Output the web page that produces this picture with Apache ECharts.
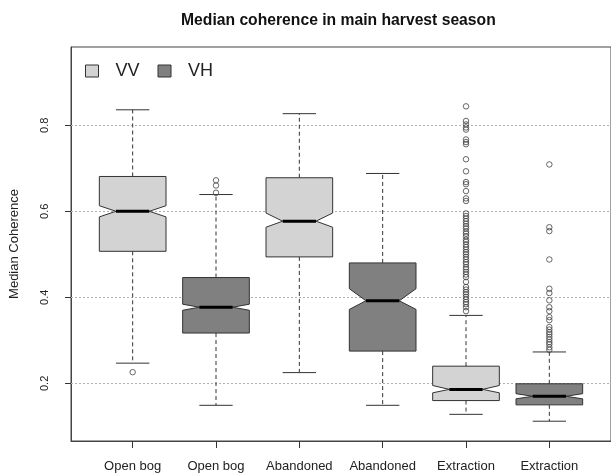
<!DOCTYPE html>
<html>
<head>
<meta charset="utf-8">
<script src="https://cdn.jsdelivr.net/npm/echarts@6/dist/echarts.min.js"></script>
<style>
  html, body { margin: 0; padding: 0; background: #fff; }
  #chart { width: 611px; height: 473px; }
</style>
</head>
<body>
<div id="chart"></div>
<script>
// Groups along the x axis and their polarisation
const categories = ['Open bog', 'Open bog', 'Abandoned', 'Abandoned', 'Extraction', 'Extraction'];
const polarisation = ['VV', 'VH', 'VV', 'VH', 'VV', 'VH'];

// Five-number summaries and notch limits per group
const whiskerLow  = [0.247, 0.149, 0.225, 0.149, 0.128, 0.112];
const q1          = [0.507, 0.317, 0.494, 0.275, 0.160, 0.150];
const notchLow    = [0.587, 0.370, 0.563, 0.372, 0.178, 0.164];
const median      = [0.600, 0.377, 0.577, 0.392, 0.186, 0.170];
const notchHigh   = [0.613, 0.384, 0.596, 0.420, 0.195, 0.176];
const q3          = [0.681, 0.446, 0.678, 0.480, 0.240, 0.199];
const whiskerHigh = [0.836, 0.639, 0.827, 0.688, 0.358, 0.273];

// Outlying values per group
const outliers1 = [0.226];
const outliers2 = [0.643, 0.660, 0.672];
const outliers3 = [];
const outliers4 = [];
const outliers5 = [0.844, 0.810, 0.802, 0.795, 0.790, 0.767, 0.761, 0.756, 0.721, 0.693,
                   0.668, 0.663, 0.647, 0.630, 0.624, 0.595, 0.589, 0.583, 0.577, 0.571,
                   0.565, 0.560, 0.553, 0.548, 0.542, 0.534, 0.529, 0.523, 0.517, 0.511,
                   0.505, 0.500, 0.494, 0.488, 0.482, 0.477, 0.470, 0.465, 0.459, 0.453,
                   0.447, 0.436, 0.424, 0.418, 0.412, 0.407, 0.401, 0.395, 0.389, 0.384,
                   0.377, 0.368];
const outliers6 = [0.709, 0.563, 0.554, 0.488, 0.420, 0.410, 0.393, 0.377, 0.368, 0.354,
                   0.347, 0.331, 0.325, 0.319, 0.314, 0.308, 0.302, 0.296, 0.291, 0.284,
                   0.278];
const outlierGroups = [outliers1, outliers2, outliers3, outliers4, outliers5, outliers6];

// Y axis tick values
const yTicks = [0.2, 0.4, 0.6, 0.8];

const fillColors = { VV: '#d3d3d3', VH: '#808080' };
const lineColor = '#333';
const FONT = 'Liberation Sans, Arial, sans-serif';

function boxRows(pol) {
  const rows = [];
  categories.forEach((c, i) => {
    if (polarisation[i] !== pol) return;
    rows.push([i + 1, whiskerLow[i], q1[i], notchLow[i], median[i], notchHigh[i], q3[i], whiskerHigh[i]]);
  });
  return rows;
}

const outlierPoints = [];
outlierGroups.forEach((g, i) => g.forEach(v => outlierPoints.push([i + 1, v])));

const HALF = 0.4;   // half box width in category units

function renderBox(params, api) {
  const x = api.value(0);
  const yLo = api.coord([x, api.value(1)])[1];
  const yQ1 = api.coord([x, api.value(2)])[1];
  const yNl = api.coord([x, api.value(3)])[1];
  const yMd = api.coord([x, api.value(4)])[1];
  const yNh = api.coord([x, api.value(5)])[1];
  const yQ3 = api.coord([x, api.value(6)])[1];
  const yHi = api.coord([x, api.value(7)])[1];
  const xc = api.coord([x, 0])[0];
  const xl = api.coord([x - HALF, 0])[0];
  const xr = api.coord([x + HALF, 0])[0];
  const inset = (xr - xl) / 4;
  const capL = api.coord([x - HALF / 2, 0])[0];
  const capR = api.coord([x + HALF / 2, 0])[0];
  const fill = api.visual('color');
  const dash = { stroke: lineColor, lineWidth: 1, lineDash: [4, 3] };
  const solid = { stroke: lineColor, lineWidth: 1 };
  return {
    type: 'group',
    children: [
      { type: 'line', shape: { x1: xc, y1: yQ3, x2: xc, y2: yHi }, style: dash },
      { type: 'line', shape: { x1: xc, y1: yQ1, x2: xc, y2: yLo }, style: dash },
      { type: 'line', shape: { x1: capL, y1: yHi, x2: capR, y2: yHi }, style: solid },
      { type: 'line', shape: { x1: capL, y1: yLo, x2: capR, y2: yLo }, style: solid },
      {
        type: 'polygon',
        shape: {
          points: [
            [xl, yQ3], [xr, yQ3], [xr, yNh], [xr - inset, yMd], [xr, yNl],
            [xr, yQ1], [xl, yQ1], [xl, yNl], [xl + inset, yMd], [xl, yNh]
          ]
        },
        style: { fill: fill, stroke: lineColor, lineWidth: 1 }
      },
      { type: 'line', shape: { x1: xl + inset, y1: yMd, x2: xr - inset, y2: yMd },
        style: { stroke: '#000', lineWidth: 3 } }
    ]
  };
}

function boxSeries(pol) {
  return {
    name: pol,
    type: 'custom',
    renderItem: renderBox,
    encode: { x: 0, y: [1, 2, 3, 4, 5, 6, 7] },
    itemStyle: { color: fillColors[pol], borderColor: lineColor, borderWidth: 1 },
    data: boxRows(pol),
    z: 10,
    silent: true
  };
}

const chart = echarts.init(document.getElementById('chart'), null, { renderer: 'canvas' });

chart.setOption({
  animation: false,
  backgroundColor: '#fff',
  textStyle: { fontFamily: FONT },
  title: {
    text: 'Median coherence in main harvest season',
    left: 176,
    top: 8,
    textStyle: { fontSize: 15.7, fontWeight: 'bold', color: '#111', fontFamily: FONT }
  },
  legend: {
    data: ['VV', 'VH'],
    left: 80,
    top: 57,
    icon: 'rect',
    itemWidth: 13,
    itemHeight: 12,
    itemGap: 18,
    itemStyle: { borderColor: lineColor, borderWidth: 1 },
    textStyle: { fontSize: 18, color: '#222', fontFamily: FONT, padding: [0, 0, 0, 12] },
    selectedMode: false
  },
  grid: {
    left: 67,
    top: 47,
    right: -4,
    bottom: 32,
    show: true,
    borderColor: '#444',
    borderWidth: 1,
    backgroundColor: 'transparent'
  },
  xAxis: {
    type: 'value',
    min: 0.26,
    max: 6.74,
    axisLine: { show: true, lineStyle: { color: '#444' } },
    axisTick: { show: true, customValues: [1, 2, 3, 4, 5, 6], length: 7, lineStyle: { color: '#333' } },
    axisLabel: {
      customValues: [1, 2, 3, 4, 5, 6],
      formatter: v => categories[Math.round(v) - 1] || '',
      fontSize: 13,
      color: '#222',
      margin: 19,
      fontFamily: FONT
    },
    splitLine: { show: false }
  },
  yAxis: {
    type: 'value',
    min: 0.066,
    max: 0.982,
    name: 'Median Coherence',
    nameLocation: 'middle',
    nameGap: 50,
    nameTextStyle: { fontSize: 13, color: '#222', fontFamily: FONT },
    axisLine: { show: true, lineStyle: { color: '#444' } },
    axisTick: { show: true, customValues: yTicks, length: 6, lineStyle: { color: '#333' } },
    axisLabel: {
      customValues: yTicks,
      formatter: v => v.toFixed(1),
      rotate: 90,
      fontSize: 11,
      color: '#222',
      margin: 21,
      fontFamily: FONT
    },
    splitLine: { show: false }
  },
  series: [
    {
      name: 'gridlines',
      type: 'scatter',
      data: [],
      silent: true,
      z: 1,
      markLine: {
        silent: true,
        z: 1,
        symbol: ['none', 'none'],
        label: { show: false },
        lineStyle: { color: '#b0b0b0', type: [2, 2], width: 1 },
        data: yTicks.map(v => ({ yAxis: v }))
      }
    },
    boxSeries('VV'),
    boxSeries('VH'),
    {
      name: 'outliers',
      type: 'scatter',
      symbol: 'circle',
      symbolSize: 5.5,
      itemStyle: { color: 'transparent', borderColor: '#444', borderWidth: 1 },
      data: outlierPoints,
      z: 11,
      silent: true
    }
  ]
});
</script>
</body>
</html>
